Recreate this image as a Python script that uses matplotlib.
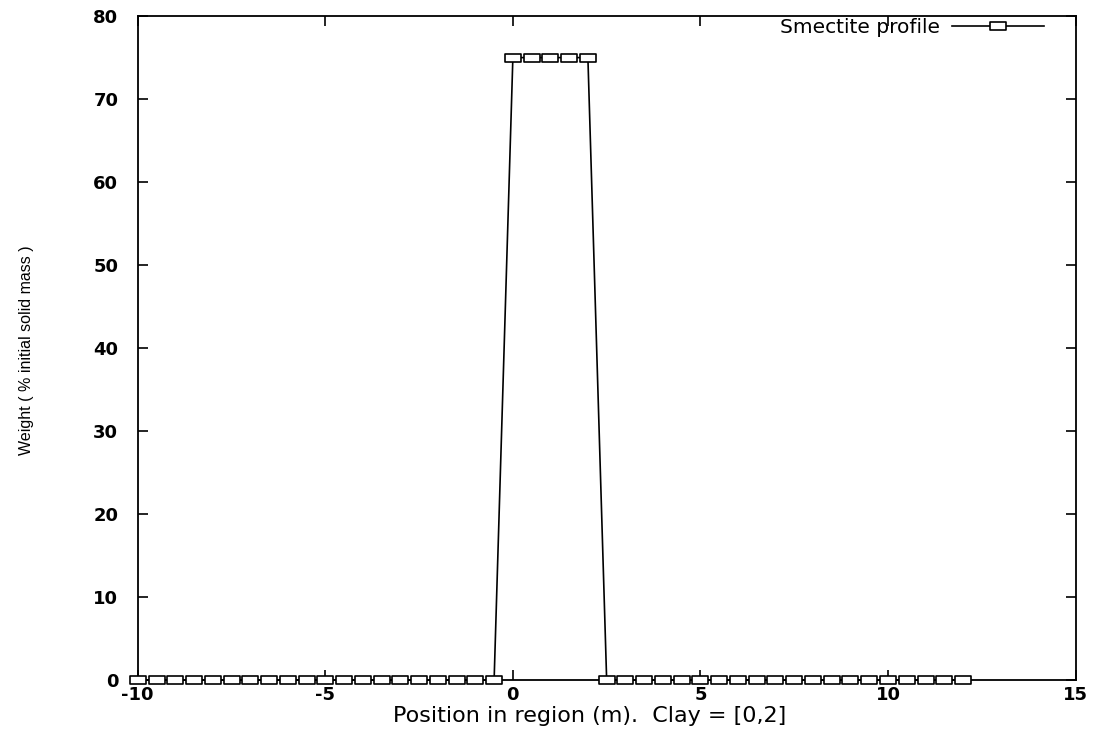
import matplotlib
matplotlib.use("Agg")
import matplotlib.pyplot as plt
from matplotlib.path import Path

# smectite profile along the region, sampled every 0.5 m
position = [-10, -9.5, -9, -8.5, -8, -7.5, -7, -6.5, -6, -5.5,
            -5, -4.5, -4, -3.5, -3, -2.5, -2, -1.5, -1, -0.5,
            0, 0.5, 1, 1.5, 2,
            2.5, 3, 3.5, 4, 4.5, 5, 5.5, 6, 6.5, 7,
            7.5, 8, 8.5, 9, 9.5, 10, 10.5, 11, 11.5, 12]
weight = [0] * 20 + [75] * 5 + [0] * 20

plt.rcParams['font.family'] = ['DejaVu Sans']
plt.rcParams['axes.unicode_minus'] = False

fig = plt.figure(figsize=(11.02, 7.32), dpi=100)
ax = fig.add_axes([0.125, 0.071, 0.851, 0.907])

# flat box marker, twice as wide as tall
box = Path([(-2, -1), (2, -1), (2, 1), (-2, 1), (-2, -1)],
           [Path.MOVETO, Path.LINETO, Path.LINETO, Path.LINETO, Path.CLOSEPOLY])

ax.plot(position, weight, color='black', lw=1.2, marker=box, markersize=12,
        markerfacecolor='white', markeredgecolor='black', markeredgewidth=1.2,
        label='Smectite profile', clip_on=False, zorder=5)

ax.set_xlim(-10, 15)
ax.set_ylim(0, 80)
ax.set_xticks([-10, -5, 0, 5, 10, 15])
ax.set_yticks(range(0, 81, 10))
ax.tick_params(direction='in', top=True, right=True, length=7, width=1.2,
               labelsize=13)
ax.tick_params(axis='y', pad=14)
ax.tick_params(axis='x', pad=4)
for lbl in ax.get_xticklabels() + ax.get_yticklabels():
    lbl.set_fontweight('bold')
for s in ax.spines.values():
    s.set_linewidth(1.3)

ax.set_xlabel('Position in region (m).  Clay = [0,2]', fontsize=16)
ax.xaxis.set_label_coords(0.482, -0.039)
fig.text(0.024, 0.522, 'Weight ( % initial solid mass )', rotation=90,
         fontsize=11.5, va='center', ha='center', family='Liberation Sans')

leg = ax.legend(loc='upper right', bbox_to_anchor=(0.969, 1.0), frameon=False,
                fontsize=14.5, markerfirst=False, handlelength=4.6,
                borderaxespad=0, borderpad=0.1, handletextpad=0.6)

plt.savefig('out.png', dpi=100)
